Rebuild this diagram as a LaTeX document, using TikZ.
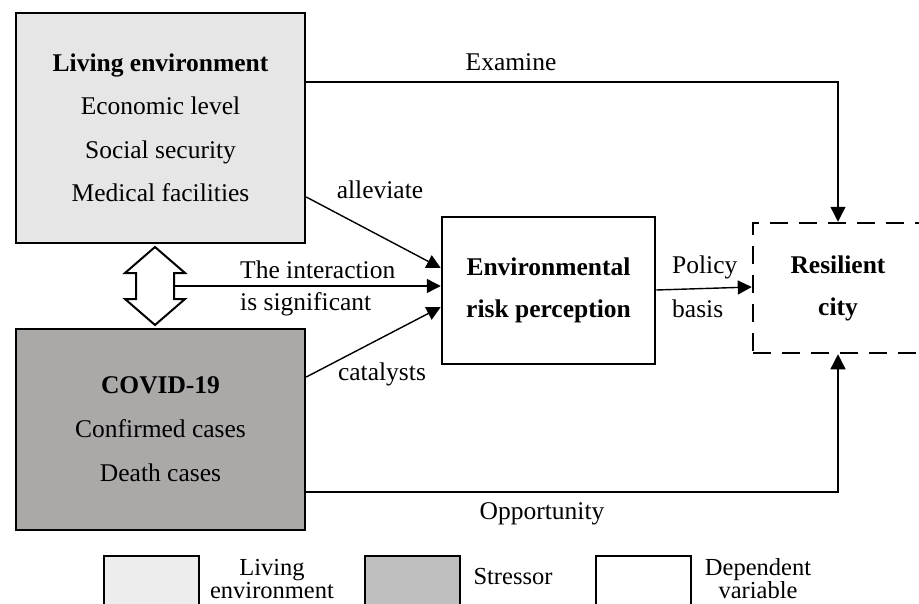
\documentclass[tikz,border=0pt]{standalone}
\usepackage{fontspec}
\setmainfont{Liberation Serif}
\usetikzlibrary{arrows.meta,calc}
\definecolor{livfill}{HTML}{E6E6E6}
\definecolor{covfill}{HTML}{ABA8A8}
\definecolor{legA}{HTML}{EDEDED}
\definecolor{legB}{HTML}{BFBFBF}
\begin{document}
\begin{tikzpicture}[x=1pt,y=-1pt,
  box/.style={draw,line width=2.5pt,align=center,inner sep=0pt},
  lbl/.style={font=\fontsize{25.5}{28}\selectfont,inner sep=0pt,anchor=base},
  leg/.style={font=\fontsize{24.5}{26}\selectfont,inner sep=0pt,anchor=base},
  arr/.style={line width=1.4pt,-{Triangle[length=14pt,width=14pt]}},
  arrb/.style={line width=1.4pt,-{Triangle[length=15pt,width=15pt]}},
  legbox/.style={draw,line width=2pt,minimum width=95pt,minimum height=80pt,inner sep=0pt,anchor=north west}]
\useasboundingbox (0,0) rectangle (919,603);
\clip (0,0) rectangle (919,603);

% main boxes
\node[box,fill=livfill,minimum width=289pt,minimum height=230pt,font=\fontsize{25.5}{43.5}\selectfont] (liv) at (160.5,128)
  {\textbf{Living environment}\\Economic level\\Social security\\Medical facilities};
\node[box,fill=covfill,minimum width=289pt,minimum height=201pt,font=\fontsize{25.5}{44}\selectfont] (cov) at (160.5,429.5)
  {\textbf{COVID-19}\\Confirmed cases\\Death cases};
\node[box,fill=white,minimum width=213pt,minimum height=147pt,font=\fontsize{25.5}{42}\selectfont\bfseries] (env) at (548.5,290.5)
  {Environmental\\risk perception};
\node[box,dash pattern=on 18pt off 11pt,minimum width=170pt,minimum height=130pt,font=\fontsize{25.5}{42}\selectfont\bfseries] (res) at (838,288)
  {Resilient\\city};

% double arrow
\draw[line width=2pt,fill=white] (155,247) -- (185,273) -- (174,273) -- (174,299) -- (185,299) -- (155,325)
  -- (125,299) -- (136,299) -- (136,273) -- (125,273) -- cycle;
\coordinate (dar) at (174,286);

% helper coordinates
\coordinate (exy) at (0,82);
\coordinate (aly) at (0,197);
\coordinate (alt) at (0,268);
\coordinate (cay) at (0,377);
\coordinate (cat) at (0,307);
\coordinate (poy) at (0,290);
\coordinate (pot) at (0,287);
\coordinate (opy) at (0,492);

% connectors
\draw[arrb] (liv.east |- exy) -| (res.north);
\draw[arr] (liv.east |- aly) -- (env.west |- alt);
\draw[arr] (dar) -- (env.west |- dar);
\draw[arr] (cov.east |- cay) -- (env.west |- cat);
\draw[arr] (env.east |- poy) -- (res.west |- pot);
\draw[arrb] (cov.east |- opy) -| (res.south);

% labels
\node[lbl] (lex) at (511,70) {Examine};
\node[lbl] (lal) at (380,198) {alleviate};
\node[lbl,anchor=base west] (lin1) at (240,278) {The interaction};
\node[lbl,anchor=base west] (lin2) at (240,310) {is significant};
\node[lbl] (lca) at (382,380) {catalysts};
\node[lbl,anchor=base west] (lpo) at (672,273) {Policy};
\node[lbl,anchor=base west] (lba) at (672,317) {basis};
\node[lbl] (lop) at (542,519) {Opportunity};

% legend
\node[legbox,fill=legA] (lg1) at (103,555) {};
\node[legbox,fill=legB] (lg2) at (364,555) {};
\node[legbox,fill=white] (lg3) at (595,555) {};
\node[leg] (lt1a) at (272,575) {Living};
\node[leg] (lt1b) at (272,598) {environment};
\node[leg] (lt2) at (513,584) {Stressor};
\node[leg] (lt3a) at (758,575) {Dependent};
\node[leg] (lt3b) at (758,598) {variable};
\end{tikzpicture}
\end{document}
